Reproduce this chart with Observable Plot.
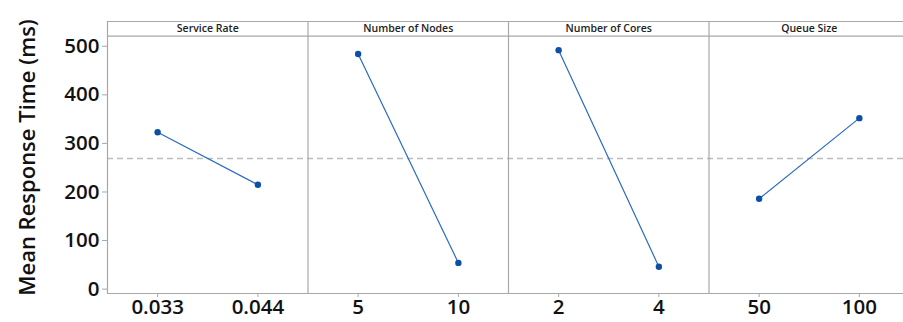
<!DOCTYPE html>
<html><head><meta charset="utf-8">
<script src="https://cdn.jsdelivr.net/npm/d3@7"></script>
<script src="https://cdn.jsdelivr.net/npm/@observablehq/plot@0.6"></script>
<style>html,body{margin:0;padding:0;overflow:hidden;background:#fff}</style>
</head><body><div id="chart"></div>
<script>
const factors = ["Service Rate", "Number of Nodes", "Number of Cores", "Queue Size"];
const levels = [["0.033", "0.044"], ["5", "10"], ["2", "4"], ["50", "100"]];
const means = [[323, 215], [484, 54], [492, 46], [186, 352]];
const grandMean = 269;
const yTicks = [0, 100, 200, 300, 400, 500];
const yLabel = "Mean Response Time (ms)";

const data = factors.flatMap((f, i) => levels[i].map((l, j) => ({factor: f, level: l, pos: i * 2 + 0.5 + j, mean: means[i][j]})));
const tickPos = data.map(d => d.pos);
const tickLab = new Map(data.map(d => [d.pos, d.level]));
const panelEdges = d3.range(factors.length + 1).map(i => i * 2);
const strips = factors.map((f, i) => ({factor: f, x: i * 2 + 1}));

const yBottom = -9, stripBottom = 521, yTop = 551;
const frameColor = "#a8a8a8";

const chart = Plot.plot({
  width: 903,
  height: 322,
  marginLeft: 107,
  marginRight: 0,
  marginTop: 21,
  marginBottom: 29,
  style: {fontFamily: "'Open Sans', sans-serif", background: "#fff", overflow: "hidden"},
  x: {domain: [0, 8], range: [107, 909], axis: null},
  y: {domain: [yBottom, yTop], axis: null},
  marks: [
    Plot.ruleY([grandMean], {x1: 0, x2: 8, stroke: "#bdbdbd", strokeWidth: 1.4, strokeDasharray: "6,4"}),
    Plot.ruleX(panelEdges, {y1: yBottom, y2: yTop, stroke: frameColor, strokeWidth: 1.2}),
    Plot.ruleY([yBottom, stripBottom, yTop], {x1: 0, x2: 8, stroke: frameColor, strokeWidth: 1.2}),
    Plot.text(strips, {x: "x", y: (stripBottom + yTop) / 2, text: "factor", fontSize: 10.5, fontWeight: 600, fill: "#222"}),
    Plot.line(data, {x: "pos", y: "mean", z: "factor", stroke: "#2a6bc2", strokeWidth: 1.2}),
    Plot.dot(data, {x: "pos", y: "mean", r: 3.2, fill: "#0d4fa6", stroke: "none"}),
    Plot.axisY({ticks: yTicks, tickSize: 5, tickPadding: 3, stroke: frameColor, fill: "#111", fontSize: 20.5, fontWeight: 600, label: null}),
    Plot.axisX({ticks: tickPos, tickFormat: d => tickLab.get(d), tickSize: 4, tickPadding: 2, stroke: frameColor, fill: "#111", fontSize: 20.5, fontWeight: 600, label: null}),
    Plot.text([yLabel], {text: d => d, frameAnchor: "left", textAnchor: "middle", dx: -80, rotate: -90, fontSize: 22, fontWeight: 600, fill: "#111"})
  ]
});
document.getElementById("chart").appendChild(chart);
</script>
</body></html>
